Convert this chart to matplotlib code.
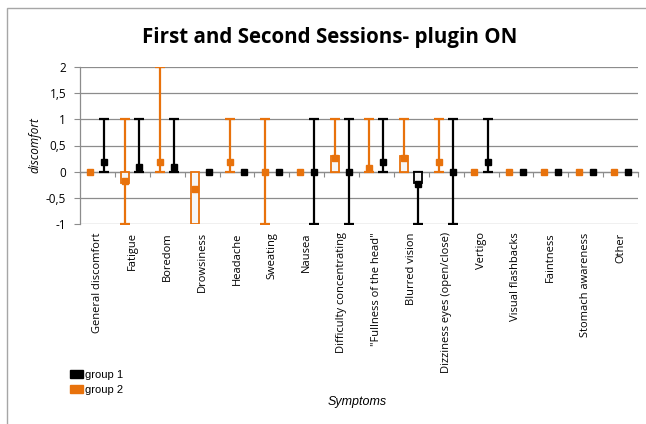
import matplotlib
matplotlib.use("Agg")
import matplotlib.pyplot as plt
import numpy as np
from matplotlib.patches import Patch, Rectangle

categories = ["General discomfort", "Fatigue", "Boredom", "Drowsiness", "Headache",
              "Sweating", "Nausea", "Difficulty concentrating", "\"Fullness of the head\"",
              "Blurred vision", "Dizziness eyes (open/close)", "Vertigo",
              "Visual flashbacks", "Faintness", "Stomach awareness", "Other"]

# group 1 (black)
g1_mean   = [0.18, 0.09, 0.09, 0, 0, 0, 0, 0, 0.18, -0.24, 0, 0.18, 0, 0, 0, 0]
g1_box_lo = [0, 0, 0, 0, 0, 0, 0, 0, 0, -0.21, 0, 0, 0, 0, 0, 0]
g1_box_hi = [0, 0, 0, 0, 0, 0, 0, 0, 0, 0, 0, 0, 0, 0, 0, 0]
g1_wh_lo  = [0, 0, 0, 0, 0, 0, -1, -1, 0, -1, -1, 0, 0, 0, 0, 0]
g1_wh_hi  = [1, 1, 1, 0, 0, 0, 1, 1, 1, 0, 1, 1, 0, 0, 0, 0]

# group 2 (orange)
g2_mean   = [0, -0.17, 0.18, -0.33, 0.18, 0, 0, 0.26, 0.07, 0.26, 0.18, 0, 0, 0, 0, 0]
g2_box_lo = [0, -0.22, 0, -1, 0, 0, 0, 0, 0, 0, 0, 0, 0, 0, 0, 0]
g2_box_hi = [0, 0, 0, 0, 0, 0, 0, 0.3, 0, 0.3, 0, 0, 0, 0, 0, 0]
g2_wh_lo  = [0, -1, 0, 0, 0, -1, 0, 0, 0, 0, 0, 0, 0, 0, 0, 0]
g2_wh_hi  = [0, 1, 2, 0, 1, 1, 0, 1, 1, 1, 1, 0, 0, 0, 0, 0]

C1 = "#000000"
C2 = "#E8720C"

fig = plt.figure(figsize=(6.46, 4.24), dpi=100)
ax = fig.add_axes([80/646, 1 - 224/424, 558/646, 157/424])

x = np.arange(len(categories))
off = 0.2
bw = 0.23

def draw_group(xpos, mean, blo, bhi, wlo, whi, color, z):
    mean = np.array(mean, float); blo = np.array(blo, float); bhi = np.array(bhi, float)
    wlo = np.array(wlo, float); whi = np.array(whi, float)
    m = whi > wlo
    ax.errorbar(xpos[m], mean[m], yerr=[mean[m] - wlo[m], whi[m] - mean[m]],
                fmt="none", ecolor=color, elinewidth=1.6, capsize=3.6, capthick=1.6, zorder=z)
    mb = bhi > blo
    ax.bar(xpos[mb], (bhi - blo)[mb], bottom=blo[mb], width=bw, facecolor="#f6f6f6",
           edgecolor=color, linewidth=1.3, zorder=z + 1)
    ax.plot(xpos, mean, linestyle="none", marker="s", markersize=5.0, color=color, zorder=z + 2)

draw_group(x - off, g2_mean, g2_box_lo, g2_box_hi, g2_wh_lo, g2_wh_hi, C2, 3)
draw_group(x + off, g1_mean, g1_box_lo, g1_box_hi, g1_wh_lo, g1_wh_hi, C1, 3)

ax.set_xlim(-0.5, len(categories) - 0.5)
ax.set_ylim(-1, 2)
ax.set_yticks([-1, -0.5, 0, 0.5, 1, 1.5, 2])
ax.set_yticklabels(["-1", "-0,5", "0", "0,5", "1", "1,5", "2"],
                   fontfamily="Open Sans", fontsize=8.5)
ax.grid(axis="y", color="#8c8c8c", linewidth=0.9, zorder=0)
ax.set_axisbelow(True)
for s in ["top", "right", "bottom"]:
    ax.spines[s].set_visible(False)
ax.spines["left"].set_color("#8c8c8c")
ax.spines["left"].set_linewidth(0.9)
ax.tick_params(axis="y", length=4, color="#8c8c8c", pad=6)

ax.set_xticks(x)
ax.set_xticklabels(categories, rotation=90, fontfamily="Open Sans", fontsize=8)
ax.tick_params(axis="x", length=0, pad=6)

# zero axis with boundary ticks
sec = ax.secondary_xaxis(1/3)
sec.set_xticks(np.arange(len(categories) + 1) - 0.5)
sec.set_xticklabels([])
sec.tick_params(axis="x", length=3.5, color="#8c8c8c", direction="out")
sec.spines["bottom"].set_color("#8c8c8c")
sec.spines["bottom"].set_linewidth(0.9)

ax.set_ylabel("discomfort", fontfamily="Open Sans", fontstyle="italic", fontsize=8.5, labelpad=3)

fig.text(0.51, 1 - 38/424, "First and Second Sessions- plugin ON", ha="center", va="center",
         fontfamily="Open Sans", fontweight="bold", fontsize=14.8)
fig.text(357/646, 1 - 402/424, "Symptoms", ha="center", va="center",
         fontfamily="Liberation Sans", fontstyle="italic", fontsize=9)

handles = [Patch(facecolor=C1, edgecolor=C1), Patch(facecolor=C2, edgecolor=C2)]
fig.legend(handles, ["group 1", "group 2"], loc="upper left",
           bbox_to_anchor=(62/646, 1 - 362/424), frameon=False,
           prop={"family": "Liberation Sans", "size": 8},
           handlelength=1.2, handleheight=0.7, handletextpad=0.15, labelspacing=0.45,
           borderpad=0.2)

fig.patches.append(Rectangle((7/646, -0.1), 1.2, 1.1 - 8/424, transform=fig.transFigure,
                             fill=False, edgecolor="#a6a6a6", linewidth=1.0))

fig.savefig("out.png", dpi=100)
